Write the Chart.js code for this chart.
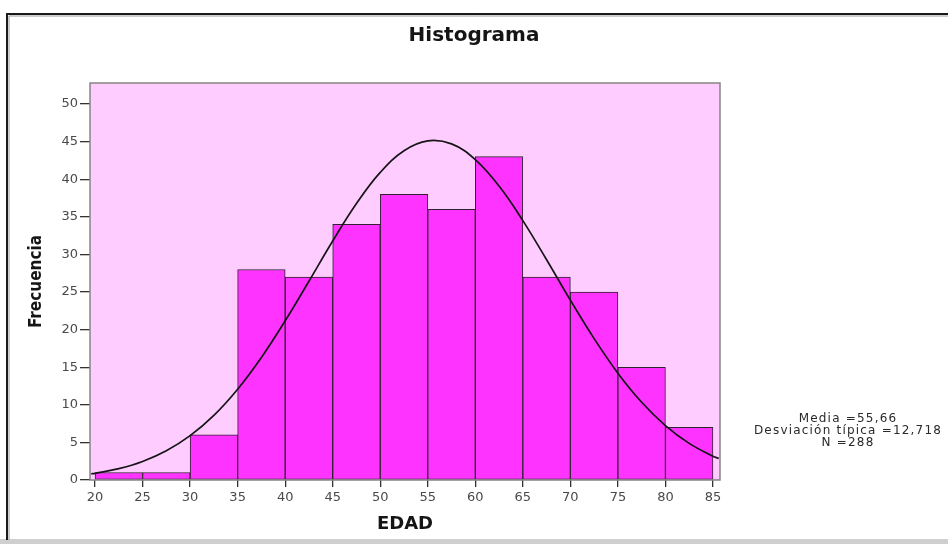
<!DOCTYPE html>
<html>
<head>
<meta charset="utf-8">
<script src="https://cdn.jsdelivr.net/npm/chart.js@4.4.1/dist/chart.umd.min.js"></script>
<style>
  html, body { margin: 0; padding: 0; background: #ffffff; }
  canvas { display: block; }
</style>
</head>
<body>
<canvas id="c" width="948" height="544"></canvas>
<script>
// ---- data ----
const binEdges = [20, 25, 30, 35, 40, 45, 50, 55, 60, 65, 70, 75, 80, 85];
const frequencies = [1, 1, 6, 28, 27, 34, 38, 36, 43, 27, 25, 15, 7];
const curveX = [19.6, 20, 22.5, 25, 27.5, 30, 32.5, 35, 37.5, 40, 42.5, 45, 47.5, 50, 52.5, 55, 57.5, 60, 62.5, 65, 67.5, 70, 72.5, 75, 77.5, 80, 82.5, 85, 85.6];
const curveY = [0.81, 0.89, 1.51, 2.47, 3.89, 5.9, 8.6, 12.08, 16.3, 21.17, 26.44, 31.79, 36.77, 40.91, 43.8, 45.11, 44.7, 42.61, 39.09, 34.5, 29.29, 23.92, 18.8, 14.21, 10.34, 7.24, 4.87, 3.16, 2.88];
const xTicks = [20, 25, 30, 35, 40, 45, 50, 55, 60, 65, 70, 75, 80, 85];
const yTicks = [0, 5, 10, 15, 20, 25, 30, 35, 40, 45, 50];
const chartTitle = 'Histograma';
const xTitle = 'EDAD';
const yTitle = 'Frecuencia';
const statsLines = ['Media =55,66', 'Desviación típica =12,718', 'N =288'];

const barPoints = frequencies.map((f, i) => ({ x: (binEdges[i] + binEdges[i + 1]) / 2, y: f }));
const curvePoints = curveX.map((x, i) => ({ x: x, y: curveY[i] }));

const FONT = "'DejaVu Sans', 'Liberation Sans', sans-serif";
const COND = "'DejaVu Sans Condensed', 'Liberation Sans Narrow', 'DejaVu Sans', sans-serif";

const decor = {
  id: 'decor',
  beforeDraw(chart) {
    const { ctx, chartArea: a } = chart;
    ctx.save();
    ctx.fillStyle = '#ffffff';
    ctx.fillRect(0, 0, chart.width, chart.height);
    // outer frame
    ctx.fillStyle = '#cfcfcf';
    ctx.fillRect(0, 539, chart.width, 5);
    ctx.strokeStyle = '#9a9a9a';
    ctx.lineWidth = 1;
    ctx.beginPath();
    ctx.moveTo(9, 540); ctx.lineTo(9, 16); ctx.lineTo(chart.width, 16);
    ctx.stroke();
    ctx.strokeStyle = '#1a1a1a';
    ctx.lineWidth = 2;
    ctx.beginPath();
    ctx.moveTo(7, 540); ctx.lineTo(7, 14); ctx.lineTo(chart.width, 14);
    ctx.stroke();
    // plot background
    ctx.fillStyle = '#FFCCFF';
    ctx.fillRect(a.left, a.top, a.right - a.left, a.bottom - a.top);
    ctx.restore();
  },
  afterDatasetsDraw(chart) {
    const { ctx, chartArea: a } = chart;
    ctx.save();
    ctx.strokeStyle = '#858585';
    ctx.lineWidth = 1.5;
    ctx.strokeRect(a.left, a.top, a.right - a.left, a.bottom - a.top);
    ctx.restore();
  },
  afterDraw(chart) {
    const { ctx } = chart;
    ctx.save();
    ctx.fillStyle = '#2a2a2a';
    ctx.font = '12px ' + FONT;
    ctx.textAlign = 'center';
    ctx.textBaseline = 'middle';
    try { ctx.letterSpacing = '1.2px'; } catch (e) {}
    const ys = [419, 431, 443];
    statsLines.forEach((t, i) => ctx.fillText(t, 848, ys[i]));
    ctx.restore();
  }
};

new Chart(document.getElementById('c'), {
  type: 'bar',
  data: {
    datasets: [
      {
        type: 'line',
        data: curvePoints,
        borderColor: '#151515',
        borderWidth: 1.7,
        pointRadius: 0,
        tension: 0.4,
        fill: false,
        order: 0
      },
      {
        type: 'bar',
        data: barPoints,
        backgroundColor: '#FF33FF',
        borderColor: '#2e222e',
        borderWidth: 1,
        borderSkipped: false,
        barPercentage: 1,
        categoryPercentage: 1,
        order: 1
      }
    ]
  },
  options: {
    responsive: false,
    animation: false,
    devicePixelRatio: 1,
    layout: { padding: 0 },
    plugins: {
      legend: { display: false },
      tooltip: { enabled: false },
      title: {
        display: true,
        text: chartTitle,
        color: '#151515',
        font: { family: FONT, size: 20, weight: 'bold' },
        padding: { top: 24, bottom: 35 }
      }
    },
    scales: {
      x: {
        type: 'linear',
        min: 19.47,
        max: 85.74,
        offset: false,
        afterBuildTicks: s => { s.ticks = xTicks.map(v => ({ value: v })); },
        afterFit: s => { s.height = 64; s.paddingLeft = 0; s.paddingRight = 0; },
        grid: { display: true, offset: false, drawOnChartArea: false, drawTicks: true, tickLength: 7, color: '#333', lineWidth: 1.3 },
        border: { display: false },
        ticks: { padding: 3, color: '#4a4a4a', font: { family: FONT, size: 13 }, autoSkip: false, maxRotation: 0 },
        title: { display: true, text: xTitle, color: '#151515', font: { family: FONT, size: 18, weight: 'bold' }, padding: { top: 0, bottom: 9 } }
      },
      y: {
        min: 0,
        max: 52.8,
        afterBuildTicks: s => { s.ticks = yTicks.map(v => ({ value: v })); },
        afterFit: s => { s.width = 90; s.paddingTop = 0; s.paddingBottom = 0; },
        grid: { display: true, drawOnChartArea: false, drawTicks: true, tickLength: 10, color: '#333', lineWidth: 1.3 },
        border: { display: false },
        ticks: { padding: 2, color: '#4a4a4a', font: { family: FONT, size: 13 } },
        title: { display: true, text: yTitle, color: '#151515', font: { family: COND, size: 17, weight: 'bold' }, padding: { top: 26, bottom: 0 } }
      },
      side: {
        type: 'linear',
        position: 'right',
        min: 0,
        max: 1,
        afterFit: s => { s.width = 228; s.paddingTop = 0; s.paddingBottom = 0; },
        grid: { display: false, drawTicks: false },
        border: { display: false },
        ticks: { display: false },
        title: { display: false }
      }
    }
  },
  plugins: [decor]
});
</script>
</body>
</html>
